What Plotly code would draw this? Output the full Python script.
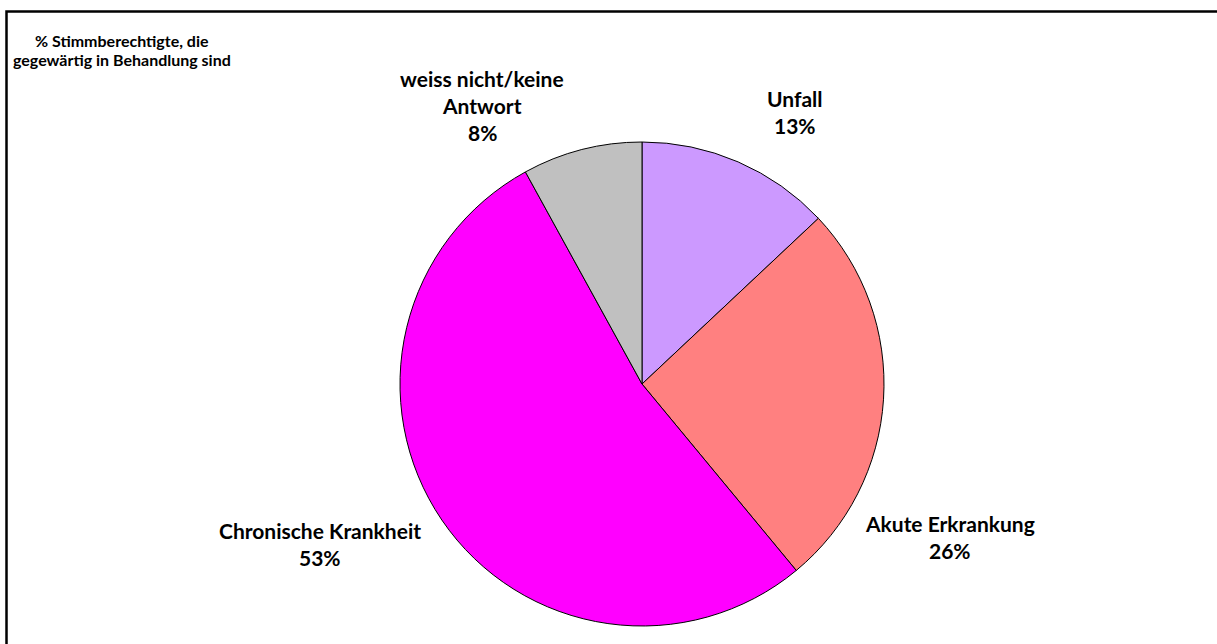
import plotly.graph_objects as go

W, H = 1217, 644

categories = ["Unfall", "Akute Erkrankung", "Chronische Krankheit", "weiss nicht/keine Antwort"]
values = [13, 26, 53, 8]
colors = ["#CC99FF", "#FF8080", "#FF00FF", "#C0C0C0"]

# label lines (text shown next to each slice) and pixel centre of each line
label_lines = [
    ["Unfall", "13%"],
    ["Akute Erkrankung", "26%"],
    ["Chronische Krankheit", "53%"],
    ["weiss nicht/keine", "Antwort", "8%"],
]
label_pos = [
    (795, [98, 126]),
    (950, [523, 550]),
    (320, [530, 557]),
    (482, [78, 105, 132]),
]

title_lines = ["% Stimmberechtigte, die", "gegewärtig in Behandlung sind"]
title_pos = (122, [41, 60])

FONT = "Lato"


def px_x(x):
    return x / W


def px_y(y):
    return 1 - y / H


# pie geometry in pixels
cx, cy, r = 642, 384, 242

fig = go.Figure(
    go.Pie(
        labels=categories,
        values=values,
        marker=dict(colors=colors, line=dict(color="#000000", width=1)),
        sort=False,
        direction="clockwise",
        rotation=0,
        textinfo="none",
        hoverinfo="label+percent",
        domain=dict(x=[px_x(cx - r), px_x(cx + r)], y=[px_y(cy + r), px_y(cy - r)]),
    )
)


def add_lines(lines, x, ys, size):
    out = []
    for line, y in zip(lines, ys):
        out.append(dict(
            x=px_x(x), y=px_y(y), xref="paper", yref="paper",
            text="<b>%s</b>" % line, showarrow=False,
            xanchor="center", yanchor="middle",
            font=dict(family=FONT, size=size, color="#000000"),
        ))
    return out


annotations = []
for lines, (x, ys) in zip(label_lines, label_pos):
    annotations += add_lines(lines, x, ys, 21)
annotations += add_lines(title_lines, title_pos[0], title_pos[1], 16)

fig.update_layout(
    width=W, height=H,
    margin=dict(l=0, r=0, t=0, b=0),
    paper_bgcolor="#ffffff",
    plot_bgcolor="#ffffff",
    showlegend=False,
    annotations=annotations,
    shapes=[dict(
        type="rect", xref="paper", yref="paper",
        x0=px_x(6.5), x1=1.05, y0=-0.05, y1=px_y(11.5),
        line=dict(color="#000000", width=2.5),
    )],
)

fig.write_html(
    "out.html",
    config={"displayModeBar": False},
    post_script="document.body.style.margin='0';document.body.style.overflow='hidden';",
)
